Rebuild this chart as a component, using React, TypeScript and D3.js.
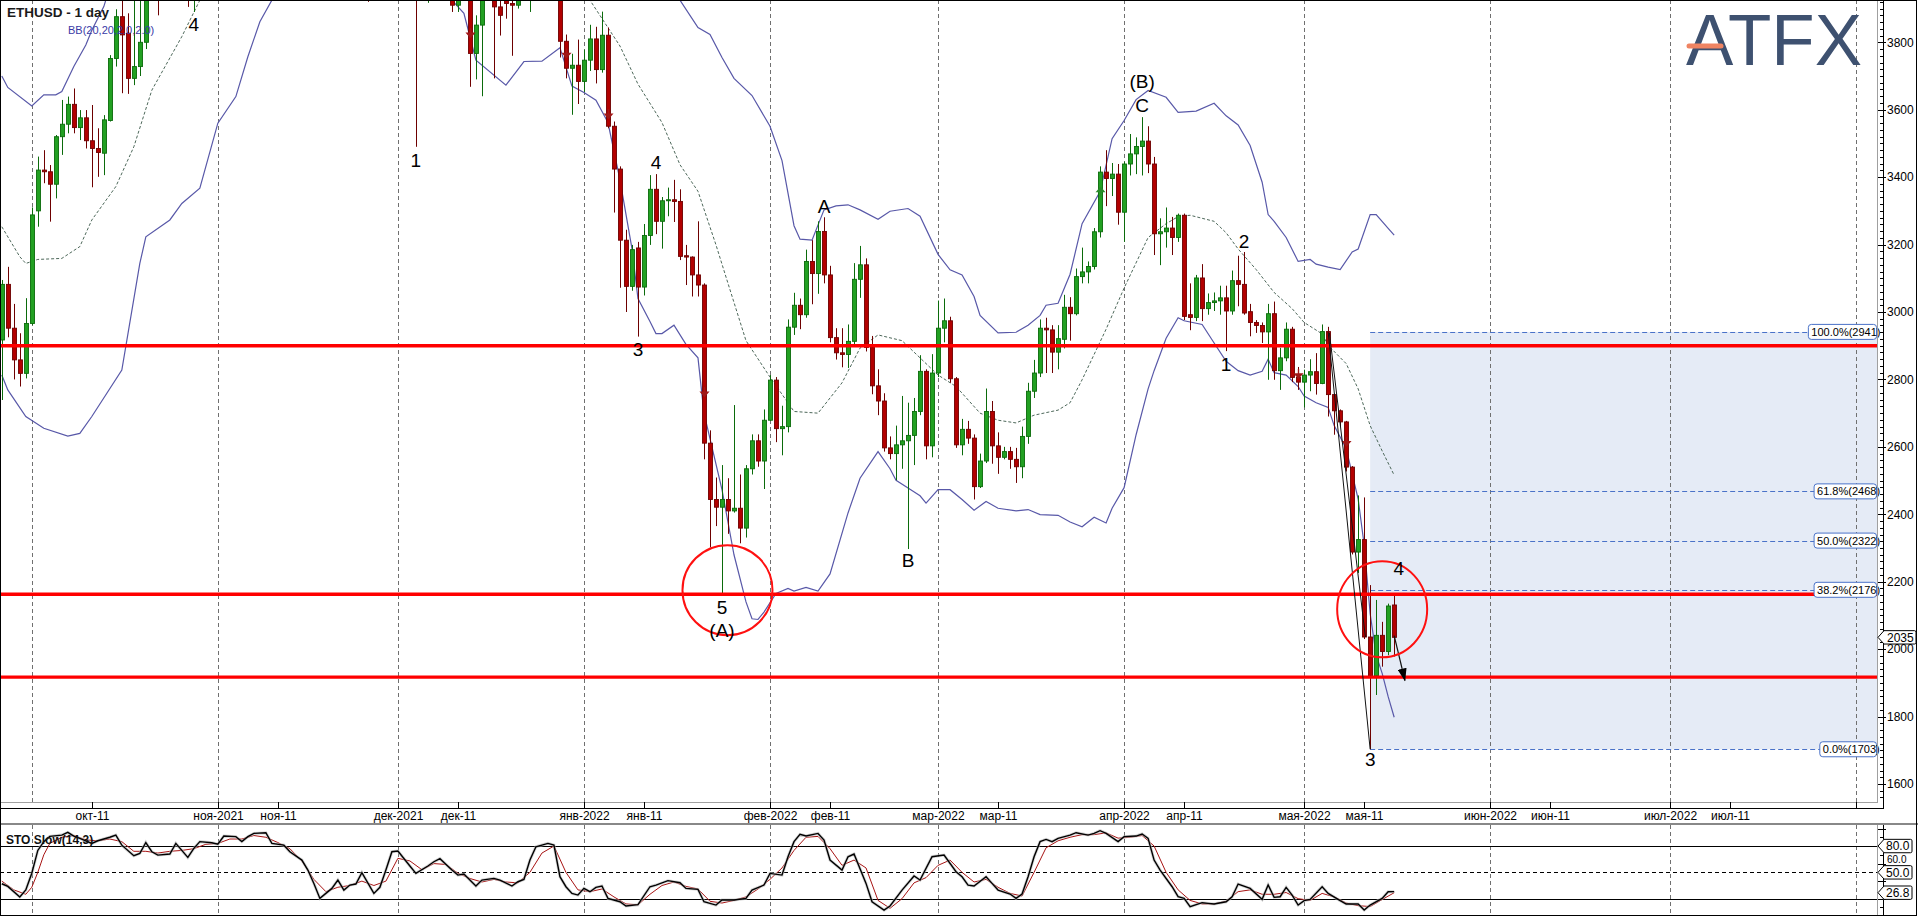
import React from 'react';
import * as d3 from 'd3';

type Bar = [number, number, number, number]; // open, high, low, close
type Point = [string, number];

const WIDTH = 1918;
const HEIGHT = 916;
const PLOT_RIGHT = 1877;
const MAIN_BOTTOM = 802;
const AXIS_X = 1883;
const STO_TOP = 825;

// ---- daily candles, one list per month (consecutive days from the start date) ----
const sep2021: Bar[] = [
  [2917, 3095, 2739, 3082], [3082, 3134, 2925, 2952], [2952, 3024, 2800, 2858], [2858, 2937, 2779, 2818],
  [2818, 3041, 2803, 2966],
];
const oct2021: Bar[] = [
  [2966, 3310, 2961, 3288], [3300, 3461, 3253, 3421], [3421, 3480, 3382, 3416], [3416, 3436, 3268, 3379],
  [3379, 3525, 3337, 3520], [3520, 3629, 3466, 3557], [3557, 3639, 3530, 3616], [3616, 3663, 3530, 3547],
  [3547, 3599, 3510, 3576], [3576, 3599, 3485, 3508], [3508, 3614, 3370, 3485], [3485, 3545, 3401, 3473],
  [3471, 3584, 3406, 3570], [3568, 3762, 3565, 3752], [3752, 3898, 3728, 3876], [3876, 3960, 3649, 3822],
  [3827, 3886, 3647, 3693], [3693, 3930, 3673, 3728], [3728, 3950, 3700, 3800], [3800, 4150, 3780, 4130],
  [4130, 4360, 3960, 4040], [4040, 4130, 3880, 3970], [3970, 4180, 3950, 4170], [4170, 4200, 3990, 4085],
  [4085, 4250, 4080, 4220], [4220, 4300, 4120, 4130], [4130, 4300, 3905, 3925], [3925, 4300, 3890, 4285],
  [4285, 4460, 4280, 4415], [4415, 4420, 4250, 4325], [4325, 4390, 4170, 4290],
];
const nov2021: Bar[] = [
  [4290, 4380, 4160, 4325], [4325, 4600, 4320, 4590], [4590, 4665, 4470, 4605], [4605, 4610, 4480, 4535],
  [4535, 4565, 4440, 4475], [4475, 4530, 4330, 4520], [4520, 4630, 4510, 4620], [4620, 4825, 4610, 4810],
  [4810, 4840, 4710, 4735], [4735, 4870, 4500, 4640], [4640, 4780, 4620, 4730], [4730, 4810, 4500, 4665],
  [4665, 4710, 4580, 4650], [4650, 4690, 4520, 4625], [4625, 4770, 4550, 4560], [4560, 4560, 4110, 4210],
  [4210, 4300, 4060, 4290], [4290, 4340, 3980, 4000], [4000, 4330, 3940, 4300], [4300, 4440, 4230, 4410],
  [4410, 4445, 4260, 4270], [4270, 4310, 4060, 4090], [4090, 4370, 4070, 4340], [4340, 4370, 4180, 4270],
  [4270, 4550, 4250, 4525], [4525, 4550, 3920, 4045], [4045, 4180, 4040, 4100], [4100, 4300, 3960, 4295],
  [4295, 4470, 4290, 4445], [4445, 4770, 4410, 4630],
];
const dec2021: Bar[] = [
  [4630, 4780, 4530, 4585], [4585, 4600, 4430, 4510], [4510, 4640, 4180, 4220], [4220, 4230, 3490, 4120],
  [4120, 4230, 3950, 4200], [4200, 4350, 3917, 4345], [4345, 4420, 4280, 4310], [4310, 4440, 4220, 4435],
  [4435, 4480, 4100, 4110], [4110, 4240, 3890, 3910], [3910, 4100, 3890, 4085], [4085, 4170, 4020, 4135],
  [4135, 4140, 3668, 3767], [3767, 3880, 3690, 3851], [3851, 4100, 3640, 4018], [4018, 4110, 3950, 3960],
  [3960, 3990, 3693, 3905], [3905, 3990, 3820, 3880], [3950, 3990, 3870, 3915], [3915, 3960, 3760, 3910],
  [3910, 4040, 3900, 4020], [4020, 4050, 3950, 3985], [3985, 4120, 3890, 4110], [4110, 4140, 4030, 4045],
  [4045, 4120, 4030, 4095], [4095, 4120, 3990, 4065], [4065, 4130, 4030, 4037], [4037, 4040, 3755, 3803],
  [3803, 3823, 3693, 3723], [3723, 3766, 3585, 3732], [3732, 3808, 3617, 3684],
];
const jan2022: Bar[] = [
  [3684, 3778, 3653, 3747], [3747, 3852, 3715, 3810], [3810, 3846, 3678, 3719], [3719, 3891, 3710, 3821],
  [3821, 3844, 3545, 3551], [3551, 3565, 3295, 3424], [3424, 3432, 3072, 3213], [3213, 3244, 3000, 3076],
  [3076, 3199, 3063, 3185], [3190, 3208, 2927, 3074], [3074, 3261, 3049, 3227], [3227, 3406, 3199, 3364],
  [3364, 3409, 3231, 3269], [3269, 3341, 3188, 3330], [3330, 3369, 3284, 3333], [3333, 3392, 3267, 3328],
  [3328, 3364, 3154, 3165], [3167, 3199, 3080, 3163], [3163, 3165, 3046, 3110], [3110, 3269, 3046, 3080],
  [3080, 3085, 2563, 2611], [2611, 2649, 2302, 2444], [2444, 2509, 2365, 2421], [2421, 2546, 2165, 2444],
  [2444, 2507, 2342, 2410], [2410, 2724, 2405, 2418], [2418, 2518, 2314, 2359], [2359, 2546, 2331, 2535],
  [2535, 2637, 2518, 2618], [2618, 2637, 2541, 2558], [2558, 2711, 2475, 2679],
];
const feb2022: Bar[] = [
  [2679, 2813, 2677, 2798], [2798, 2807, 2614, 2654], [2654, 2722, 2575, 2660], [2660, 2978, 2643, 2955],
  [2955, 3057, 2932, 3020], [3020, 3040, 2949, 2992], [2992, 3185, 2983, 3150], [3150, 3213, 3023, 3114],
  [3114, 3269, 3054, 3239], [3239, 3281, 3085, 3110], [3110, 3137, 2910, 2924], [2924, 2952, 2859, 2879],
  [2879, 2952, 2836, 2874], [2874, 2963, 2834, 2913], [2913, 3145, 2898, 3097], [3097, 3196, 3042, 3140],
  [3140, 3159, 2883, 2895], [2895, 2929, 2756, 2781], [2781, 2830, 2694, 2736], [2736, 2759, 2586, 2597],
  [2597, 2631, 2563, 2580], [2580, 2663, 2501, 2606], [2606, 2751, 2535, 2618], [2618, 2731, 2297, 2634],
  [2634, 2745, 2546, 2705], [2705, 2872, 2694, 2824], [2824, 2830, 2563, 2603], [2603, 2875, 2569, 2819],
];
const mar2022: Bar[] = [
  [2819, 3034, 2807, 2952], [2952, 3040, 2910, 2974], [2974, 2986, 2790, 2802], [2802, 2807, 2597, 2606],
  [2606, 2683, 2575, 2652], [2652, 2677, 2609, 2626], [2626, 2637, 2444, 2482], [2482, 2580, 2478, 2558],
  [2558, 2773, 2552, 2705], [2705, 2736, 2550, 2603], [2603, 2643, 2520, 2569], [2569, 2600, 2563, 2586],
  [2586, 2600, 2535, 2563], [2563, 2597, 2493, 2541], [2541, 2660, 2507, 2631], [2631, 2790, 2609, 2765],
  [2765, 2858, 2745, 2819], [2819, 2978, 2807, 2952], [2952, 2983, 2819, 2947], [2947, 2961, 2819, 2881],
  [2881, 2961, 2830, 2921], [2919, 3051, 2892, 3014], [3014, 3044, 2915, 2995], [2995, 3129, 2990, 3105],
  [3105, 3191, 3085, 3119], [3119, 3150, 3085, 3135], [3135, 3249, 3126, 3238], [3238, 3432, 3221, 3415],
  [3415, 3480, 3314, 3396], [3396, 3442, 3344, 3409], [3409, 3439, 3259, 3296],
];
const apr2022: Bar[] = [
  [3296, 3446, 3208, 3439], [3439, 3528, 3405, 3469], [3469, 3518, 3409, 3491], [3491, 3578, 3405, 3507],
  [3507, 3551, 3412, 3439], [3439, 3460, 3169, 3232], [3232, 3278, 3139, 3238], [3238, 3310, 3191, 3249],
  [3249, 3282, 3169, 3221], [3221, 3292, 3208, 3287], [3287, 3292, 2976, 2987], [2992, 3085, 2946, 2984],
  [2984, 3110, 2973, 3101], [3101, 3142, 2973, 3010], [3010, 3055, 2992, 3028], [3028, 3058, 3003, 3033],
  [3033, 3078, 2992, 3042], [3042, 3078, 2884, 3003], [3003, 3123, 2992, 3093], [3093, 3167, 3017, 3082],
  [3082, 3178, 2992, 2997], [3001, 3024, 2928, 2969], [2969, 2976, 2938, 2960], [2960, 2969, 2908, 2941],
  [2941, 3024, 2799, 2995], [2995, 3031, 2799, 2826], [2826, 2894, 2769, 2864], [2864, 2969, 2854, 2949],
  [2949, 2956, 2792, 2806], [2806, 2837, 2769, 2792],
];
const may2022: Bar[] = [
  [2792, 2829, 2717, 2813], [2813, 2860, 2765, 2823], [2823, 2878, 2755, 2788], [2788, 2963, 2786, 2942],
  [2942, 2956, 2690, 2755], [2755, 2758, 2636, 2707], [2707, 2711, 2660, 2674], [2674, 2677, 2527, 2540],
  [2540, 2543, 2281, 2288], [2288, 2456, 2226, 2325], [2325, 2450, 2030, 2036], [2036, 2190, 1703, 1921],
  [1921, 2146, 1864, 2041], [2041, 2081, 1948, 1993], [1993, 2135, 1982, 2128], [2131, 2158, 1978, 2035],
];
const candleMonths: [string, Bar[]][] = [
  ['2021-09-26', sep2021], ['2021-10-01', oct2021], ['2021-11-01', nov2021], ['2021-12-01', dec2021],
  ['2022-01-01', jan2022], ['2022-02-01', feb2022], ['2022-03-01', mar2022], ['2022-04-01', apr2022],
  ['2022-05-01', may2022],
];

// ---- Bollinger bands (20, 2.0) ----
const bbUpper: Point[] = [
  ['2021-09-26', 3700], ['2021-09-27', 3666], ['2021-10-01', 3611], ['2021-10-03', 3644], ['2021-10-05', 3644],
  ['2021-10-06', 3654], ['2021-10-08', 3728], ['2021-10-10', 3792], ['2021-10-11', 3836], ['2021-10-13', 3906],
  ['2021-10-16', 4080], ['2021-10-22', 4350], ['2021-11-01', 4620], ['2021-11-10', 4950], ['2021-11-22', 4960],
  ['2021-12-03', 4880], ['2021-12-15', 4700], ['2021-12-28', 4480], ['2022-01-08', 4220], ['2022-01-14', 4020],
  ['2022-01-17', 3925], ['2022-01-20', 3844], ['2022-01-22', 3823], ['2022-01-24', 3755], ['2022-01-26', 3693],
  ['2022-01-29', 3642], ['2022-02-01', 3551], ['2022-02-03', 3449], ['2022-02-05', 3256], ['2022-02-06', 3216],
  ['2022-02-08', 3213], ['2022-02-10', 3303], ['2022-02-12', 3315], ['2022-02-14', 3318], ['2022-02-16', 3303],
  ['2022-02-19', 3275], ['2022-02-21', 3299], ['2022-02-24', 3307], ['2022-02-26', 3284], ['2022-03-01', 3171],
  ['2022-03-03', 3125], ['2022-03-05', 3110], ['2022-03-07', 3046], ['2022-03-08', 2990], ['2022-03-11', 2938],
  ['2022-03-14', 2940], ['2022-03-16', 2961], ['2022-03-18', 2990], ['2022-03-19', 3020], ['2022-03-21', 3026],
  ['2022-03-23', 3112], ['2022-03-25', 3262], ['2022-03-28', 3357], ['2022-03-30', 3514], ['2022-04-01', 3568],
  ['2022-04-03', 3630], ['2022-04-05', 3657], ['2022-04-08', 3637], ['2022-04-10', 3592], ['2022-04-13', 3596],
  ['2022-04-16', 3619], ['2022-04-18', 3582], ['2022-04-20', 3555], ['2022-04-22', 3494], ['2022-04-24', 3385],
  ['2022-04-25', 3289], ['2022-04-26', 3269], ['2022-04-28', 3221], ['2022-04-30', 3150], ['2022-05-02', 3156],
  ['2022-05-03', 3142], ['2022-05-05', 3133], ['2022-05-07', 3126], ['2022-05-09', 3178], ['2022-05-10', 3187],
  ['2022-05-12', 3289], ['2022-05-13', 3289], ['2022-05-15', 3248], ['2022-05-16', 3228],
];
const bbMiddle: Point[] = [
  ['2021-09-26', 3253], ['2021-09-29', 3164], ['2021-09-30', 3144], ['2021-10-02', 3156], ['2021-10-06', 3159],
  ['2021-10-09', 3194], ['2021-10-11', 3273], ['2021-10-15', 3372], ['2021-10-18', 3490], ['2021-10-21', 3658],
  ['2021-10-26', 3817], ['2021-10-29', 3925], ['2021-11-08', 4300], ['2021-11-20', 4500], ['2021-12-01', 4420],
  ['2021-12-12', 4330], ['2021-12-22', 4150], ['2021-12-30', 4010], ['2022-01-02', 3925], ['2022-01-07', 3789],
  ['2022-01-10', 3676], ['2022-01-14', 3562], ['2022-01-17', 3437], ['2022-01-20', 3358], ['2022-01-23', 3199],
  ['2022-01-25', 3085], ['2022-01-28', 2915], ['2022-02-01', 2807], ['2022-02-05', 2705], ['2022-02-09', 2700],
  ['2022-02-13', 2790], ['2022-02-16', 2893], ['2022-02-19', 2932], ['2022-02-23', 2915], ['2022-02-26', 2864],
  ['2022-03-01', 2813], ['2022-03-04', 2779], ['2022-03-08', 2700], ['2022-03-11', 2679], ['2022-03-14', 2671],
  ['2022-03-17', 2694], ['2022-03-21', 2709], ['2022-03-23', 2731], ['2022-03-25', 2799], ['2022-03-29', 2949],
  ['2022-04-01', 3071], ['2022-04-05', 3221], ['2022-04-08', 3262], ['2022-04-10', 3283], ['2022-04-12', 3287],
  ['2022-04-16', 3269], ['2022-04-18', 3235], ['2022-04-20', 3187], ['2022-04-23', 3126], ['2022-04-26', 3058],
  ['2022-04-29', 3010], ['2022-05-01', 2969], ['2022-05-04', 2935], ['2022-05-05', 2901], ['2022-05-08', 2847],
  ['2022-05-10', 2772], ['2022-05-12', 2663], ['2022-05-14', 2588], ['2022-05-16', 2516],
];
const bbLower: Point[] = [
  ['2021-09-26', 2813], ['2021-09-27', 2769], ['2021-09-30', 2690], ['2021-10-03', 2655], ['2021-10-07', 2632],
  ['2021-10-09', 2640], ['2021-10-11', 2690], ['2021-10-16', 2828], ['2021-10-19', 3144], ['2021-10-20', 3223],
  ['2021-10-24', 3273], ['2021-10-26', 3322], ['2021-10-29', 3367], ['2021-11-01', 3560], ['2021-11-04', 3639],
  ['2021-11-06', 3757], ['2021-11-08', 3861], ['2021-11-10', 3925], ['2021-11-15', 4050], ['2021-11-25', 4010],
  ['2021-12-05', 3990], ['2021-12-10', 3925], ['2021-12-12', 3886], ['2021-12-14', 3747], ['2021-12-19', 3673],
  ['2021-12-22', 3743], ['2021-12-25', 3744], ['2021-12-28', 3784], ['2021-12-30', 3670], ['2022-01-01', 3651],
  ['2022-01-03', 3628], ['2022-01-05', 3562], ['2022-01-07', 3392], ['2022-01-09', 3188], ['2022-01-10', 3040],
  ['2022-01-12', 2972], ['2022-01-13', 2936], ['2022-01-14', 2936], ['2022-01-16', 2961], ['2022-01-18', 2904],
  ['2022-01-20', 2864], ['2022-01-21', 2700], ['2022-01-24', 2473], ['2022-01-26', 2280], ['2022-01-28', 2140],
  ['2022-01-29', 2090], ['2022-01-30', 2088], ['2022-01-31', 2110], ['2022-02-02', 2165], ['2022-02-04', 2180],
  ['2022-02-05', 2172], ['2022-02-07', 2183], ['2022-02-09', 2172], ['2022-02-11', 2223], ['2022-02-14', 2404],
  ['2022-02-16', 2507], ['2022-02-19', 2586], ['2022-02-21', 2535], ['2022-02-22', 2501], ['2022-02-24', 2478],
  ['2022-02-26', 2455], ['2022-02-27', 2433], ['2022-03-01', 2473], ['2022-03-03', 2473], ['2022-03-05', 2444],
  ['2022-03-07', 2412], ['2022-03-09', 2438], ['2022-03-11', 2418], ['2022-03-14', 2410], ['2022-03-16', 2414],
  ['2022-03-18', 2399], ['2022-03-21', 2397], ['2022-03-23', 2377], ['2022-03-25', 2363], ['2022-03-27', 2391],
  ['2022-03-29', 2374], ['2022-03-30', 2418], ['2022-04-01', 2479], ['2022-04-03', 2636], ['2022-04-05', 2772],
  ['2022-04-06', 2826], ['2022-04-08', 2922], ['2022-04-10', 2983], ['2022-04-11', 2974], ['2022-04-14', 2963],
  ['2022-04-16', 2908], ['2022-04-18', 2854], ['2022-04-20', 2826], ['2022-04-22', 2813], ['2022-04-24', 2824],
  ['2022-04-25', 2860], ['2022-04-26', 2820], ['2022-04-28', 2813], ['2022-04-30', 2779], ['2022-05-01', 2751],
  ['2022-05-03', 2731], ['2022-05-05', 2717], ['2022-05-06', 2663], ['2022-05-08', 2595], ['2022-05-10', 2445],
  ['2022-05-11', 2309], ['2022-05-12', 2105], ['2022-05-13', 1982], ['2022-05-14', 1928], ['2022-05-15', 1859],
  ['2022-05-16', 1798],
];

// ---- slow stochastic (14,3) ----
const stochK: Point[] = [
  ['2021-09-26', 37], ['2021-09-27', 34], ['2021-09-29', 22], ['2021-09-30', 30], ['2021-10-01', 49],
  ['2021-10-02', 75], ['2021-10-03', 85], ['2021-10-04', 91], ['2021-10-06', 92.5], ['2021-10-07', 95.6],
  ['2021-10-08', 91.4], ['2021-10-09', 88.7], ['2021-10-11', 83], ['2021-10-12', 86], ['2021-10-14', 90],
  ['2021-10-15', 92.5], ['2021-10-16', 81], ['2021-10-18', 69], ['2021-10-19', 71.6], ['2021-10-20', 84],
  ['2021-10-21', 73.5], ['2021-10-22', 69.7], ['2021-10-24', 70.9], ['2021-10-25', 83], ['2021-10-27', 67],
  ['2021-10-28', 77.3], ['2021-10-29', 85], ['2021-10-31', 83.8], ['2021-11-01', 82], ['2021-11-02', 91.4],
  ['2021-11-04', 90.7], ['2021-11-05', 85], ['2021-11-06', 90.7], ['2021-11-07', 94.4], ['2021-11-09', 95.2],
  ['2021-11-10', 83], ['2021-11-12', 81], ['2021-11-13', 73.5], ['2021-11-15', 64], ['2021-11-16', 52.6],
  ['2021-11-17', 37.4], ['2021-11-18', 20.3], ['2021-11-20', 31.7], ['2021-11-21', 41.2], ['2021-11-22', 29.8],
  ['2021-11-23', 35.5], ['2021-11-24', 36.7], ['2021-11-25', 49.6], ['2021-11-27', 26], ['2021-11-28', 32.9],
  ['2021-11-29', 52.6], ['2021-11-30', 73.5], ['2021-12-01', 74.3], ['2021-12-03', 57.2], ['2021-12-04', 48.8],
  ['2021-12-06', 57.2], ['2021-12-07', 62.1], ['2021-12-08', 65.6], ['2021-12-10', 52.6], ['2021-12-11', 46.9],
  ['2021-12-12', 48], ['2021-12-14', 34.4], ['2021-12-15', 41.2], ['2021-12-17', 43.1], ['2021-12-18', 41.2],
  ['2021-12-20', 34.4], ['2021-12-21', 39.3], ['2021-12-22', 42], ['2021-12-23', 64], ['2021-12-24', 79.2],
  ['2021-12-26', 83], ['2021-12-27', 81.1], ['2021-12-28', 45], ['2021-12-29', 33.6], ['2021-12-30', 26],
  ['2021-12-31', 24.1], ['2022-01-01', 31.7], ['2022-01-02', 27.9], ['2022-01-03', 32.9], ['2022-01-04', 34.4],
  ['2022-01-05', 20.3], ['2022-01-07', 16.5], ['2022-01-08', 11.6], ['2022-01-10', 13.1], ['2022-01-12', 33.6],
  ['2022-01-13', 35.5], ['2022-01-15', 40.5], ['2022-01-17', 38.2], ['2022-01-18', 31.7], ['2022-01-20', 30.6],
  ['2022-01-21', 16.5], ['2022-01-23', 12.7], ['2022-01-24', 18.4], ['2022-01-26', 18.4], ['2022-01-28', 20.3],
  ['2022-01-29', 29.8], ['2022-01-31', 35.5], ['2022-02-01', 48.8], ['2022-02-03', 46.9], ['2022-02-04', 67.8],
  ['2022-02-05', 85], ['2022-02-06', 93.3], ['2022-02-07', 91.4], ['2022-02-09', 94.4], ['2022-02-10', 86.8],
  ['2022-02-11', 64], ['2022-02-13', 52.6], ['2022-02-14', 67.8], ['2022-02-15', 70.9], ['2022-02-17', 37.4],
  ['2022-02-18', 16.5], ['2022-02-20', 7], ['2022-02-21', 11.6], ['2022-02-23', 29.8], ['2022-02-25', 45.8],
  ['2022-02-26', 41.2], ['2022-02-28', 67.8], ['2022-03-02', 69.7], ['2022-03-04', 50.7], ['2022-03-05', 45],
  ['2022-03-06', 35.5], ['2022-03-07', 34.4], ['2022-03-09', 45], ['2022-03-10', 37.4], ['2022-03-11', 29.8],
  ['2022-03-13', 25.3], ['2022-03-14', 20.3], ['2022-03-15', 25.3], ['2022-03-16', 45], ['2022-03-17', 67.8],
  ['2022-03-18', 85], ['2022-03-19', 87.6], ['2022-03-20', 85], ['2022-03-21', 88.7], ['2022-03-23', 92.5],
  ['2022-03-24', 95.2], ['2022-03-26', 92.5], ['2022-03-27', 94.4], ['2022-03-28', 97.5], ['2022-03-29', 94.4],
  ['2022-03-31', 85], ['2022-04-01', 90.7], ['2022-04-03', 91.4], ['2022-04-04', 93.7], ['2022-04-05', 88.7],
  ['2022-04-06', 64], ['2022-04-07', 52.6], ['2022-04-09', 33.6], ['2022-04-10', 22.2], ['2022-04-11', 20.3],
  ['2022-04-12', 10.8], ['2022-04-14', 15.4], ['2022-04-15', 14.6], ['2022-04-16', 13.9], ['2022-04-18', 16.5],
  ['2022-04-19', 22.2], ['2022-04-20', 36.7], ['2022-04-22', 31.7], ['2022-04-24', 19.2], ['2022-04-25', 35.5],
  ['2022-04-26', 21.5], ['2022-04-27', 22.2], ['2022-04-28', 32.9], ['2022-04-29', 24.1], ['2022-04-30', 12.7],
  ['2022-05-01', 17.7], ['2022-05-02', 19.2], ['2022-05-04', 33.6], ['2022-05-05', 26], ['2022-05-07', 17.7],
  ['2022-05-08', 13.9], ['2022-05-10', 13.9], ['2022-05-11', 7], ['2022-05-12', 12.7], ['2022-05-14', 20.3],
  ['2022-05-15', 27.9], ['2022-05-16', 28],
];
const stochD: Point[] = [
  ['2021-09-26', 40], ['2021-09-28', 30], ['2021-09-30', 25], ['2021-10-01', 33], ['2021-10-02', 50],
  ['2021-10-03', 70], ['2021-10-04', 83], ['2021-10-06', 90], ['2021-10-08', 92], ['2021-10-10', 87],
  ['2021-10-12', 86], ['2021-10-14', 88], ['2021-10-16', 85], ['2021-10-18', 74], ['2021-10-20', 74],
  ['2021-10-22', 72], ['2021-10-24', 74], ['2021-10-26', 75], ['2021-10-28', 77], ['2021-10-30', 82],
  ['2021-11-01', 83], ['2021-11-03', 88], ['2021-11-05', 88], ['2021-11-07', 92], ['2021-11-09', 90],
  ['2021-11-11', 84], ['2021-11-13', 77], ['2021-11-15', 63], ['2021-11-17', 42], ['2021-11-19', 28],
  ['2021-11-21', 33], ['2021-11-23', 35], ['2021-11-25', 40], ['2021-11-27', 35], ['2021-11-29', 40],
  ['2021-12-01', 66], ['2021-12-03', 63], ['2021-12-05', 53], ['2021-12-07', 60], ['2021-12-09', 59],
  ['2021-12-11', 49], ['2021-12-13', 43], ['2021-12-15', 39], ['2021-12-17', 42], ['2021-12-19', 39],
  ['2021-12-21', 38], ['2021-12-23', 50], ['2021-12-25', 72], ['2021-12-27', 80], ['2021-12-29', 50],
  ['2021-12-31', 30], ['2022-01-02', 28], ['2022-01-04', 31], ['2022-01-06', 22], ['2022-01-08', 14],
  ['2022-01-10', 13], ['2022-01-12', 25], ['2022-01-14', 35], ['2022-01-16', 39], ['2022-01-18', 34],
  ['2022-01-20', 31], ['2022-01-22', 17], ['2022-01-24', 15], ['2022-01-26', 18], ['2022-01-28', 22],
  ['2022-01-30', 31], ['2022-02-01', 42], ['2022-02-03', 55], ['2022-02-05', 75], ['2022-02-07', 90],
  ['2022-02-09', 91], ['2022-02-11', 77], ['2022-02-13', 58], ['2022-02-15', 64], ['2022-02-17', 55],
  ['2022-02-19', 18], ['2022-02-21', 9], ['2022-02-23', 20], ['2022-02-25', 38], ['2022-02-27', 44],
  ['2022-03-01', 58], ['2022-03-03', 64], ['2022-03-05', 50], ['2022-03-07', 39], ['2022-03-09', 42],
  ['2022-03-11', 33], ['2022-03-13', 26], ['2022-03-15', 23], ['2022-03-17', 50], ['2022-03-19', 78],
  ['2022-03-21', 86], ['2022-03-23', 90], ['2022-03-25', 93], ['2022-03-27', 93], ['2022-03-29', 95],
  ['2022-03-31', 89], ['2022-04-02', 90], ['2022-04-04', 92], ['2022-04-06', 80], ['2022-04-08', 50],
  ['2022-04-10', 30], ['2022-04-12', 18], ['2022-04-14', 14], ['2022-04-16', 14], ['2022-04-18', 17],
  ['2022-04-20', 28], ['2022-04-22', 30], ['2022-04-24', 25], ['2022-04-26', 25], ['2022-04-28', 27],
  ['2022-04-30', 20], ['2022-05-02', 18], ['2022-05-04', 26], ['2022-05-06', 22], ['2022-05-08', 15],
  ['2022-05-10', 12], ['2022-05-12', 11], ['2022-05-14', 19], ['2022-05-16', 26.8],
];

// ---- annotations ----
const supportLevels = [2900, 2163, 1917];
const fibStart = '2022-05-12';
const fibLevels: [string, number][] = [['100.0%', 2941], ['61.8%', 2468], ['50.0%', 2322], ['38.2%', 2176], ['0.0%', 1703]];
const lastPrice = 2035;
const stochLevels = [80, 50, 20];
const stochBoxes = [80, 50, 26.8];
const waveLabels: [string, string, number][] = [
  ['4', '2021-10-28', 3834], ['1', '2021-12-04', 3431], ['4', '2022-01-13', 3424], ['3', '2022-01-10', 2870],
  ['5', '2022-01-24', 2104], ['(A)', '2022-01-24', 2036], ['A', '2022-02-10', 3295], ['B', '2022-02-24', 2244],
  ['(B)', '2022-04-04', 3664], ['C', '2022-04-04', 3592], ['2', '2022-04-21', 3191], ['1', '2022-04-18', 2826],
  ['3', '2022-05-12', 1654], ['4', '2022-05-16T18:00:00Z', 2220],
];
const circles: [string, number][] = [['2022-01-24T22:00:00Z', 2175], ['2022-05-14', 2118]];
const trendLines: [Point, Point][] = [
  [['2022-05-05', 2941], ['2022-05-12', 1703]],
  [['2022-05-05T05:00:00Z', 2938], ['2022-05-11T05:00:00Z', 2036]],
];
const forecastArrow: [Point, Point] = [['2022-05-16', 2040], ['2022-05-17T19:00:00Z', 1907]];
const signalMarks: [string, number, 'up' | 'down'][] = [
  ['2021-12-13', 3827, 'down'], ['2021-12-29', 3767, 'down'], ['2022-01-05', 3587, 'down'],
  ['2022-01-21', 2762, 'down'], ['2022-03-28', 3357, 'up'], ['2022-04-30', 2816, 'down'], ['2022-05-08', 2615, 'down'],
];
const monthNames = ['янв', 'фев', 'мар', 'апр', 'мая', 'июн', 'июл', 'авг', 'сен', 'окт', 'ноя', 'дек'];

const GREEN = '#22a022';
const GREEN_DARK = '#0b6b0b';
const RED = '#b20000';
const RED_DARK = '#6e0000';
const BAND = '#5858a8';
const FONT = "'Liberation Sans', Arial, sans-serif";

const d = (s: string) => d3.isoParse(s) as Date;

const x = d3.scaleUtc().domain([d('2021-10-01'), d('2022-08-01')]).range([31.8, 1856.3]);
const y = d3.scaleLinear().domain([1600, 3800]).range([784, 42.3]);
const ys = d3.scaleLinear().domain([0, 100]).range([916.2, 828.5]);

const priceLine = d3.line<Point>().x(p => x(d(p[0]))).y(p => y(p[1]));
const stochLine = d3.line<Point>().x(p => x(d(p[0]))).y(p => ys(p[1]));

const candles = candleMonths.flatMap(([start, bars]) =>
  bars.map((b, i) => ({ date: d3.utcDay.offset(d(start), i), o: b[0], h: b[1], l: b[2], c: b[3] })),
);

const monthStarts = d3.utcMonth.range(d('2021-10-01'), d('2022-08-02'));
const axisTicks = monthStarts.flatMap(m => {
  const out: { date: Date; label: string | null }[] = [];
  const name = monthNames[m.getUTCMonth()];
  const isFirst = m.getTime() === d('2021-10-01').getTime();
  const isLast = m.getTime() === d('2022-08-01').getTime();
  if (!isFirst) out.push({ date: m, label: isLast ? null : `${name}-${m.getUTCFullYear()}` });
  if (!isLast) out.push({ date: d3.utcDay.offset(m, 10), label: `${name}-11` });
  return out;
});

const priceMinor = d3.range(1560, 3930, 20);
const priceMajor = d3.range(1600, 3801, 200);

const valueBox = (cy: number, right: number) =>
  `M${AXIS_X - 5},${cy} L${AXIS_X + 1},${cy - 6.7} L${right - 1.5},${cy - 6.7} Q${right},${cy - 6.7} ${right},${cy - 5.2} ` +
  `L${right},${cy + 5.2} Q${right},${cy + 6.7} ${right - 1.5},${cy + 6.7} L${AXIS_X + 1},${cy + 6.7} Z`;

const App: React.FC = () => {
  const fibX = x(d(fibStart));
  return (
    <svg
      width={WIDTH}
      height={HEIGHT}
      viewBox={`0 0 ${WIDTH} ${HEIGHT}`}
      style={{ position: 'absolute', left: 0, top: 0, background: '#fff', fontFamily: FONT }}
    >
      <defs>
        <clipPath id="mainClip">
          <rect x={0} y={0} width={PLOT_RIGHT} height={MAIN_BOTTOM} />
        </clipPath>
        <clipPath id="stoClip">
          <rect x={0} y={STO_TOP} width={PLOT_RIGHT} height={HEIGHT - STO_TOP} />
        </clipPath>
        <marker id="arrowHead" viewBox="0 0 13 9" refX={12} refY={4.5} markerWidth={13} markerHeight={9}
          markerUnits="userSpaceOnUse" orient="auto">
          <path d="M0,0 L13,4.5 L0,9 Z" fill="#000" />
        </marker>
      </defs>
      <rect x={0} y={0} width={WIDTH} height={HEIGHT} fill="#fff" />

      <g clipPath="url(#mainClip)">
        {/* fibonacci zone */}
        <rect x={fibX} y={y(fibLevels[0][1])} width={PLOT_RIGHT - fibX}
          height={y(fibLevels[4][1]) - y(fibLevels[0][1])} fill="#e5ebf6" />

        {monthStarts.map(m => (
          <line key={m.toISOString()} x1={Math.round(x(m)) + 0.5} x2={Math.round(x(m)) + 0.5} y1={0} y2={MAIN_BOTTOM}
            stroke="#707070" strokeDasharray="4,3" />
        ))}

        {fibLevels.map(([pct, v]) => (
          <line key={pct} x1={fibX} x2={PLOT_RIGHT} y1={Math.round(y(v)) + 0.5} y2={Math.round(y(v)) + 0.5}
            stroke="#4a72c8" strokeDasharray="5,3" />
        ))}

        <path d={priceLine(bbUpper) ?? ''} fill="none" stroke={BAND} strokeWidth={1.2} />
        <path d={priceLine(bbLower) ?? ''} fill="none" stroke={BAND} strokeWidth={1.2} />
        <path d={priceLine(bbMiddle) ?? ''} fill="none" stroke="#4d685a" strokeWidth={1} strokeDasharray="3,2" />

        {candles.map(cd => {
          const cx = Math.round(x(cd.date));
          const up = cd.c >= cd.o;
          const top = y(Math.max(cd.o, cd.c));
          const bot = y(Math.min(cd.o, cd.c));
          return (
            <g key={cd.date.toISOString()}>
              <line x1={cx + 0.5} x2={cx + 0.5} y1={y(cd.h)} y2={y(cd.l)} stroke={up ? GREEN_DARK : RED_DARK} />
              <rect x={cx - 1.5} y={top} width={4} height={Math.max(1, bot - top)}
                fill={up ? GREEN : RED} stroke={up ? GREEN_DARK : RED_DARK} strokeWidth={0.9} />
            </g>
          );
        })}

        {signalMarks.map(([date, v, dir]) => {
          const cx = Math.round(x(d(date))) + 0.5;
          const cy = y(v);
          const s = dir === 'down' ? 1 : -1;
          const col = dir === 'down' ? '#a01818' : '#2a8a2a';
          return (
            <g key={date} stroke={col} fill={col} strokeWidth={1.4}>
              <line x1={cx} x2={cx} y1={cy - 5 * s} y2={cy + 3 * s} />
              <path d={`M${cx - 3.5},${cy} L${cx},${cy + 4 * s} L${cx + 3.5},${cy} Z`} />
            </g>
          );
        })}

        {supportLevels.map(v => (
          <line key={v} x1={0} x2={PLOT_RIGHT} y1={y(v)} y2={y(v)} stroke="#ff0000" strokeWidth={3.4} />
        ))}

        {trendLines.map(([a, b], i) => (
          <line key={i} x1={x(d(a[0]))} y1={y(a[1])} x2={x(d(b[0]))} y2={y(b[1])} stroke="#111" strokeWidth={1} />
        ))}
        <line x1={x(d(forecastArrow[0][0]))} y1={y(forecastArrow[0][1])} x2={x(d(forecastArrow[1][0]))}
          y2={y(forecastArrow[1][1])} stroke="#111" strokeWidth={1.2} markerEnd="url(#arrowHead)" />

        {circles.map(([date, v], i) => (
          <ellipse key={i} cx={x(d(date))} cy={y(v)} rx={45} ry={i === 0 ? 45 : 48} fill="none" stroke="#ff1010"
            strokeWidth={2} />
        ))}

        {waveLabels.map(([t, date, v], i) => (
          <text key={i} x={x(d(date))} y={y(v)} textAnchor="middle" fontSize={19} fill="#000">{t}</text>
        ))}
      </g>

      {/* title and legend */}
      <text x={7} y={17} fontSize={13.5} fontWeight="bold" fill="#1a1a1a">ETHUSD - 1 day</text>
      <text x={68} y={34} fontSize={11} fill="#3a3aa6">BB(20,20,2.0,2.0)</text>

      {/* logo */}
      <text x={1686} y={65} fontSize={72} fill="#3e5170" textLength={176} lengthAdjust="spacingAndGlyphs">ATFX</text>
      <line x1={1689} x2={1721} y1={46} y2={46} stroke="#ef8462" strokeWidth={5} strokeLinecap="round" />

      {/* fibonacci labels */}
      {fibLevels.map(([pct, v]) => {
        const label = `${pct}(${v})`;
        const w = label.length * 5.72;
        return (
          <g key={pct}>
            <rect x={PLOT_RIGHT - w} y={y(v) - 7.5} width={w - 0.5} height={15} rx={3} fill="#fff" stroke="#4a72c8" />
            <text x={PLOT_RIGHT - w + 3} y={y(v) + 4} fontSize={11} fill="#000">{label}</text>
          </g>
        );
      })}

      {/* plot frame and axes */}
      <line x1={PLOT_RIGHT + 0.5} x2={PLOT_RIGHT + 0.5} y1={0} y2={MAIN_BOTTOM + 1} stroke="#a0a0a0" />
      <line x1={0} x2={PLOT_RIGHT + 1} y1={MAIN_BOTTOM + 0.5} y2={MAIN_BOTTOM + 0.5} stroke="#a0a0a0" />
      <line x1={AXIS_X + 0.5} x2={AXIS_X + 0.5} y1={0} y2={808.5} stroke="#000" />
      <line x1={0} x2={AXIS_X + 1} y1={808.5} y2={808.5} stroke="#000" />

      {priceMinor.map(v => {
        const yy = Math.round(y(v)) + 0.5;
        if (yy < 0 || yy > MAIN_BOTTOM) return null;
        const major = v % 200 === 0;
        return <line key={v} x1={major ? AXIS_X - 5 : AXIS_X - 3} x2={major ? AXIS_X + 3 : AXIS_X} y1={yy} y2={yy} stroke="#000" />;
      })}
      {priceMajor.map(v => (
        <text key={v} x={1887} y={y(v) + 4.3} fontSize={12} fill="#000">{v}</text>
      ))}

      <path d={valueBox(y(lastPrice), 1916)} fill="#fff" stroke="#000" />
      <text x={1887} y={y(lastPrice) + 4.3} fontSize={12} fill="#000">{lastPrice}</text>

      {axisTicks.map(t => {
        const tx = Math.round(x(t.date)) + 0.5;
        return (
          <g key={t.date.toISOString()}>
            <line x1={tx} x2={tx} y1={MAIN_BOTTOM} y2={808} stroke="#000" />
            {t.label && (
              <text x={tx} y={819.5} textAnchor="middle" fontSize={12} fill="#000">{t.label}</text>
            )}
          </g>
        );
      })}

      {/* stochastic panel */}
      <line x1={0} x2={WIDTH} y1={824} y2={824} stroke="#888" strokeWidth={2.2} />
      <g clipPath="url(#stoClip)">
        {monthStarts.map(m => (
          <line key={m.toISOString()} x1={Math.round(x(m)) + 0.5} x2={Math.round(x(m)) + 0.5} y1={STO_TOP} y2={HEIGHT}
            stroke="#707070" strokeDasharray="4,3" />
        ))}
        {stochLevels.map(v => (
          <line key={v} x1={0} x2={PLOT_RIGHT} y1={Math.round(ys(v)) + 0.5} y2={Math.round(ys(v)) + 0.5} stroke="#000"
            strokeDasharray={v === 50 ? '4,3' : undefined} />
        ))}
        <path d={stochLine(stochD) ?? ''} fill="none" stroke="#a81414" strokeWidth={1} />
        <path d={stochLine(stochK) ?? ''} fill="none" stroke="#b8b8b8" strokeWidth={3} opacity={0.6} />
        <path d={stochLine(stochK) ?? ''} fill="none" stroke="#000" strokeWidth={1.4} />
      </g>
      <text x={6} y={844} fontSize={12} fontWeight="bold" fill="#111">STO Slow(14,3)</text>

      <line x1={PLOT_RIGHT + 0.5} x2={PLOT_RIGHT + 0.5} y1={STO_TOP} y2={HEIGHT} stroke="#a0a0a0" />
      <line x1={AXIS_X + 0.5} x2={AXIS_X + 0.5} y1={STO_TOP} y2={HEIGHT} stroke="#000" />
      {d3.range(0, 101, 10).map(v => (
        <line key={v} x1={AXIS_X - (v % 20 === 0 ? 5 : 3)} x2={AXIS_X + (v % 20 === 0 ? 3 : 0)}
          y1={Math.round(ys(v)) + 0.5} y2={Math.round(ys(v)) + 0.5} stroke="#000" />
      ))}
      <text x={1887} y={863} fontSize={10} fill="#000">60.0</text>
      {stochBoxes.map(v => (
        <g key={v}>
          <path d={valueBox(ys(v), 1912)} fill="#fff" stroke="#000" />
          <text x={1886} y={ys(v) + 4.3} fontSize={12} fill="#000">{v.toFixed(1)}</text>
        </g>
      ))}

      {/* outer frame */}
      <rect x={0.5} y={0.5} width={WIDTH - 2} height={HEIGHT - 1} fill="none" stroke="#000" />
    </svg>
  );
};

export default App;
